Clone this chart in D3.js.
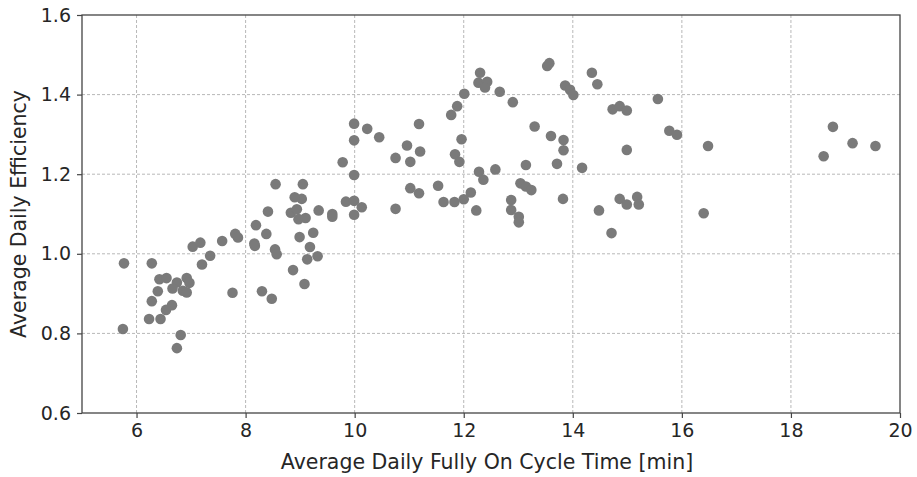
<!DOCTYPE html>
<html>
<head>
<meta charset="utf-8">
<script src="https://cdn.jsdelivr.net/npm/d3@7"></script>
<style>
    body { margin: 0; background: #fff; }
    .canvas text { font-family: "DejaVu Sans", sans-serif; }
</style>
</head>
<body>
<div class="canvas"></div>
<script>
// data: cycle time [min] and efficiency
const cycleTime = [
    5.77, 6.28, 6.42, 6.55, 6.39, 6.74, 6.66, 6.92, 6.97, 6.85,
    6.92, 6.28, 6.65, 6.54, 6.23, 6.44, 5.75, 6.81, 6.74, 7.20,
    7.35, 7.03, 7.17, 7.57, 7.81, 7.86, 7.76, 8.19, 8.16, 8.17,
    8.38, 8.41, 8.55, 8.54, 8.57, 8.30, 8.48, 8.87, 9.08, 9.05,
    9.03, 8.90, 8.83, 8.94, 8.97, 9.10, 9.34, 9.59, 9.59, 9.84,
    9.99, 10.13, 9.99, 9.24, 8.99, 9.18, 9.32, 9.13, 9.78, 9.99,
    9.99, 9.99, 10.23, 10.45, 11.18, 10.96, 10.75, 11.02, 11.20, 11.96,
    11.84, 11.92, 12.58, 12.28, 12.36, 11.02, 11.18, 11.53, 10.75, 11.63,
    11.83, 12.00, 12.13, 12.23, 12.87, 12.87, 13.01, 13.01, 12.30, 12.27,
    12.43, 12.39, 12.01, 12.66, 12.90, 11.88, 11.77, 13.30, 13.60, 13.83,
    13.83, 13.71, 14.17, 13.14, 13.04, 13.14, 13.24, 13.82, 14.48, 13.53,
    13.57, 14.35, 14.45, 13.86, 13.95, 14.01, 15.56, 14.73, 14.86, 14.99,
    15.77, 15.91, 16.48, 14.99, 14.86, 14.99, 15.18, 15.21, 16.40, 14.71,
    18.77, 19.13, 19.55, 18.60
]
const efficiency = [
    0.976, 0.976, 0.936, 0.939, 0.906, 0.928, 0.913, 0.939, 0.927, 0.907,
    0.903, 0.881, 0.871, 0.859, 0.836, 0.836, 0.811, 0.796, 0.763, 0.973,
    0.995, 1.018, 1.028, 1.032, 1.050, 1.041, 0.902, 1.072, 1.026, 1.020,
    1.050, 1.106, 1.175, 1.011, 0.999, 0.906, 0.887, 0.959, 0.924, 1.175,
    1.138, 1.142, 1.103, 1.112, 1.087, 1.090, 1.109, 1.100, 1.093, 1.131,
    1.133, 1.117, 1.098, 1.053, 1.042, 1.017, 0.994, 0.986, 1.230, 1.198,
    1.327, 1.285, 1.314, 1.293, 1.326, 1.272, 1.241, 1.231, 1.257, 1.288,
    1.250, 1.231, 1.212, 1.206, 1.186, 1.165, 1.152, 1.171, 1.113, 1.130,
    1.130, 1.137, 1.154, 1.109, 1.135, 1.110, 1.093, 1.079, 1.455, 1.430,
    1.432, 1.418, 1.402, 1.407, 1.381, 1.371, 1.349, 1.320, 1.296, 1.286,
    1.260, 1.226, 1.216, 1.223, 1.177, 1.169, 1.160, 1.138, 1.109, 1.472,
    1.479, 1.455, 1.426, 1.423, 1.412, 1.399, 1.389, 1.363, 1.371, 1.360,
    1.309, 1.299, 1.271, 1.261, 1.138, 1.124, 1.143, 1.124, 1.102, 1.052,
    1.319, 1.278, 1.271, 1.245
]
const xTicks = [6, 8, 10, 12, 14, 16, 18, 20]
const yTicks = [0.6, 0.8, 1.0, 1.2, 1.4, 1.6]

const data = cycleTime.map((c, i) => ({ time: c, eff: efficiency[i] }))

// graph dimensions
const margins = { top: 15, right: 17, bottom: 64, left: 82 }
const dims = { width: 917, height: 477 }
const graphDims = {
    width: dims.width - margins.left - margins.right,
    height: dims.height - margins.top - margins.bottom
}

const svg = d3.select('.canvas')
    .append('svg')
    .attr('width', dims.width)
    .attr('height', dims.height)

const graph = svg.append('g')
    .attr('transform', `translate(${margins.left}, ${margins.top})`)

// scales
const x = d3.scaleLinear().domain([5, 20]).range([0, graphDims.width])
const y = d3.scaleLinear().domain([0.6, 1.6]).range([graphDims.height, 0])

// grid
const grid = graph.append('g')
    .attr('stroke', '#b8b8b8')
    .attr('stroke-width', 1)
    .attr('stroke-dasharray', '3 2')

grid.selectAll('.vgrid')
    .data(xTicks.filter(t => t > 5 && t < 20))
    .enter().append('line')
    .attr('x1', d => x(d)).attr('x2', d => x(d))
    .attr('y1', 0).attr('y2', graphDims.height)

grid.selectAll('.hgrid')
    .data(yTicks.filter(t => t > 0.6 && t < 1.6))
    .enter().append('line')
    .attr('x1', 0).attr('x2', graphDims.width)
    .attr('y1', d => y(d)).attr('y2', d => y(d))

// axes
const xAxis = graph.append('g')
    .attr('transform', `translate(0, ${graphDims.height})`)
    .call(d3.axisBottom(x).tickValues(xTicks).tickSize(5).tickPadding(6).tickFormat(d3.format('d')))

const yAxis = graph.append('g')
    .call(d3.axisLeft(y).tickValues(yTicks).tickSize(5).tickPadding(6).tickFormat(d3.format('.1f')))

graph.selectAll('.domain').remove()
graph.selectAll('.tick line').attr('stroke', '#444').attr('stroke-width', 1.2)
graph.selectAll('.tick text')
    .attr('fill', '#262626')
    .style('font-size', '19px')

// frame
graph.append('rect')
    .attr('width', graphDims.width)
    .attr('height', graphDims.height)
    .attr('fill', 'none')
    .attr('stroke', '#444')
    .attr('stroke-width', 1.3)

// points
graph.selectAll('circle')
    .data(data)
    .enter().append('circle')
    .attr('cx', d => x(d.time))
    .attr('cy', d => y(d.eff))
    .attr('r', 5.3)
    .attr('fill', '#7a7a7a')

// axis labels
svg.append('text')
    .attr('x', margins.left + graphDims.width / 2 - 4)
    .attr('y', 469)
    .attr('text-anchor', 'middle')
    .attr('fill', '#262626')
    .style('font-size', '20.5px')
    .text('Average Daily Fully On Cycle Time [min]')

svg.append('text')
    .attr('transform', `translate(26, ${margins.top + graphDims.height / 2}) rotate(-90)`)
    .attr('text-anchor', 'middle')
    .attr('fill', '#262626')
    .style('font-size', '20.5px')
    .text('Average Daily Efficiency')
</script>
</body>
</html>
